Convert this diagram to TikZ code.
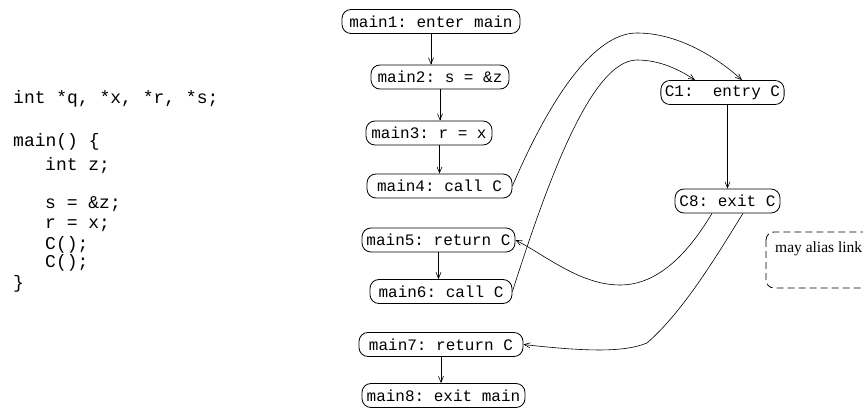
\documentclass[tikz,border=0pt]{standalone}
\usepackage{fontspec}
\setmainfont{Liberation Serif}
\setmonofont{Liberation Mono}
\usetikzlibrary{arrows.meta}

\begin{document}
\begin{tikzpicture}[x=1pt, y=-1pt,
    flow/.style={-{Straight Barb[length=6pt,width=5pt]}, line width=0.6pt},
    stmt/.style={draw, line width=0.8pt, rounded corners=9pt, minimum height=24pt,
        inner sep=4pt, font=\fontsize{16}{18}\selectfont\ttfamily},
    code/.style={anchor=base west, inner sep=0pt, font=\fontsize{18}{20}\selectfont\ttfamily}]
    \useasboundingbox (0,0) rectangle (863,409);
    \clip (0,0) rectangle (863,409);

    % Source program
    \foreach \i/\x/\y/\txt in {1/13/104/{int *q, *x, *r, *s;}, 2/13/147/{main() \{},
        3/45/171/{int z;}, 4/45/209/{s = \&z;}, 5/45/229/{r = x;},
        6/45/249/{C();}, 7/45/268/{C();}, 8/13/288/{\}}}
        \node[code] (line\i) at (\x,\y) {\txt};

    % Nodes of main
    \node[stmt, minimum width=178pt] (main1) at (431,21.5) {main1: enter main};
    \node[stmt, minimum width=138pt] (main2) at (440,77) {main2: s = \&z};
    \node[stmt, minimum width=126pt] (main3) at (429,133) {main3: r = x};
    \node[stmt, minimum width=145pt] (main4) at (439.5,186) {main4: call C};
    \node[stmt, minimum width=153pt] (main5) at (438.5,240) {main5: return C};
    \node[stmt, minimum width=142pt] (main6) at (441,291.5) {main6: call C};
    \node[stmt, minimum width=164pt] (main7) at (441,344.5) {main7: return C};
    \node[stmt, minimum width=163pt] (main8) at (443.5,395.5) {main8: exit main};

    % Nodes of C
    \node[stmt, minimum width=119pt] (C1) at (722.5,92.5) {C1: \ entry C};
    \node[stmt, minimum width=105pt] (C8) at (727.5,201) {C8: exit C};

    % Intraprocedural edges
    \draw[flow] (main1.south) -- (main1.south |- main2.north);
    \draw[flow] (main2.south) -- (main2.south |- main3.north);
    \draw[flow] (main3.south -| main4.north) -- (main4.north);
    \draw[flow] (main5.south) -- (main5.south |- main6.north);
    \draw[flow] (main7.south) -- (main7.south |- main8.north);
    \draw[flow] (C8.north |- C1.south) -- (C8.north);

    % Call edges
    \draw[flow] (main4.east) .. controls (545,110) and (590,33) .. (637,33)
        .. controls (680,33) and (720,60) .. ([xshift=19.5pt]C1.north);
    \draw[flow] (main6.east) .. controls (545,190) and (590,60) .. (637,60)
        .. controls (660,60) and (680,70) .. ([xshift=-27.5pt]C1.north);

    % Return edges
    \draw[flow] ([xshift=-15.5pt]C8.south) .. controls (690,250) and (660,285) .. (620,285)
        .. controls (580,285) and (545,255) .. (main5.east);
    \draw[flow] ([xshift=15.5pt]C8.south) .. controls (720,250) and (685,310) .. (647,343)
        .. controls (625,352) and (590,352) .. (main7.east);

    % Legend
    \draw[line width=0.8pt, rounded corners=8pt, dash pattern=on 7pt off 4pt]
        (766,232) rectangle (880,288);
    \node[anchor=base west, inner sep=0pt, font=\fontsize{15.5}{17}\selectfont] (legend) at (775,253) {may alias link};
\end{tikzpicture}
\end{document}
